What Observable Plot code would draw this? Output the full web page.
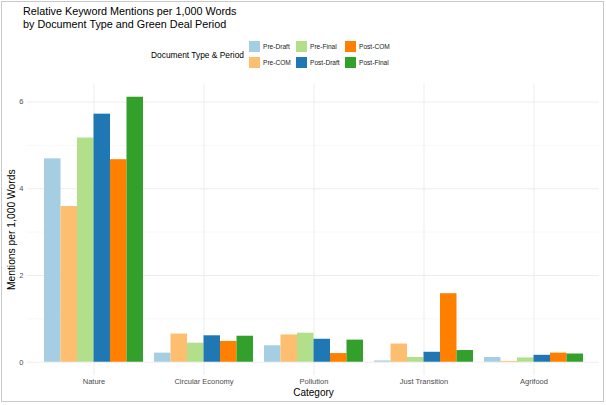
<!DOCTYPE html>
<html>
<head>
<meta charset="utf-8">
<script src="https://cdn.jsdelivr.net/npm/d3@7"></script>
<script src="https://cdn.jsdelivr.net/npm/@observablehq/plot@0.6"></script>
<style>
  html, body { margin: 0; padding: 0; background: #fff; }
  #wrap { position: relative; width: 606px; height: 405px; font-family: "Liberation Sans", Arial, Helvetica, sans-serif; overflow: hidden; }
  #frame { position: absolute; left: 1px; top: 1px; width: 603px; height: 401px; box-sizing: border-box; border: 1px solid #c9c9c9; pointer-events: none; }
  #title { position: absolute; left: 23px; top: 4.5px; font-size: 10.8px; line-height: 13px; color: #000; }
  #legTitle { position: absolute; left: 151px; top: 50px; font-size: 8.4px; color: #000; }
  .sw { position: absolute; width: 11px; height: 11px; }
  .lab { position: absolute; font-size: 6.6px; color: #222; }
  #chart { position: absolute; left: 0; top: 0; }
</style>
</head>
<body>
<div id="wrap">
  <div id="chart"></div>
  <div id="title">Relative Keyword Mentions per 1,000 Words<br>by Document Type and Green Deal Period</div>
  <div id="legTitle">Document Type &amp; Period</div>
  <div id="legend"></div>
  <div id="frame"></div>
</div>
<script>
const categories = ["Nature", "Circular Economy", "Pollution", "Just Transition", "Agrifood"];
const series = ["Pre-Draft", "Pre-COM", "Pre-Final", "Post-Draft", "Post-COM", "Post-Final"];
const colors = ["#A6CEE3", "#FDBF6F", "#B2DF8A", "#1F78B4", "#FF7F00", "#33A02C"];
const preDraft  = [4.69, 0.21, 0.38, 0.03, 0.11];
const preCOM    = [3.59, 0.65, 0.63, 0.42, 0.02];
const preFinal  = [5.17, 0.44, 0.67, 0.11, 0.10];
const postDraft = [5.72, 0.61, 0.53, 0.23, 0.16];
const postCOM   = [4.67, 0.48, 0.20, 1.58, 0.21];
const postFinal = [6.11, 0.60, 0.51, 0.27, 0.19];
const yTicks = [0, 2, 4, 6];
const yMinor = [1, 3, 5];

const values = [preDraft, preCOM, preFinal, postDraft, postCOM, postFinal];
const data = [];
series.forEach((s, i) => categories.forEach((c, j) => data.push({category: c, series: s, value: values[i][j]})));

const bandW = 99;
const n = series.length;
const barW = bandW / n;
const barMarks = series.map((s, i) => Plot.barY(data.filter(d => d.series === s), {
  x: "category", y1: 0, y2: "value", fill: "series",
  insetLeft: i * barW, insetRight: (n - 1 - i) * barW
}));

const chart = Plot.plot({
  width: 606,
  height: 405,
  marginTop: 83.5,
  marginBottom: 30,
  marginLeft: 27,
  marginRight: 7,
  style: {fontFamily: "'Liberation Sans', Arial, Helvetica, sans-serif", background: "transparent"},
  x: {domain: categories, paddingInner: 0.1, paddingOuter: 0.15, label: null},
  y: {domain: [-0.3055, 6.4155], label: null},
  color: {domain: series, range: colors},
  marks: [
    Plot.ruleY(yMinor, {stroke: "#f3f3f3", strokeWidth: 0.6}),
    Plot.ruleY(yTicks, {stroke: "#ebebeb", strokeWidth: 0.9}),
    Plot.gridX({stroke: "#ebebeb", strokeOpacity: 1, strokeWidth: 0.9}),
    ...barMarks,
    Plot.axisX({tickSize: 0, tickPadding: 3, fontSize: 7.5, fill: "#4d4d4d", label: null}),
    Plot.axisY({ticks: yTicks, tickFormat: d => String(d), tickSize: 0, tickPadding: 4, fontSize: 7.5, fill: "#4d4d4d", label: null}),
    Plot.text(["Category"], {frameAnchor: "bottom", lineAnchor: "middle", dy: 17.7, fontSize: 10, fill: "#000"}),
    Plot.text(["Mentions per 1,000 Words"], {frameAnchor: "left", textAnchor: "middle", lineAnchor: "middle", dx: -16, rotate: -90, fontSize: 10.3, fill: "#000"})
  ]
});
document.getElementById("chart").appendChild(chart);

// legend (column-major, 2 rows x 3 columns), colours from the plot's color scale
const cs = chart.scale("color");
const leg = document.getElementById("legend");
const colX = [249, 296, 345];
const rowY = [41, 57];
cs.domain.forEach((s, i) => {
  const col = Math.floor(i / 2), row = i % 2;
  const sw = document.createElement("div");
  sw.className = "sw";
  sw.style.left = colX[col] + "px";
  sw.style.top = rowY[row] + "px";
  sw.style.background = cs.range[i];
  leg.appendChild(sw);
  const lb = document.createElement("div");
  lb.className = "lab";
  lb.style.left = (colX[col] + 14) + "px";
  lb.style.top = (rowY[row] + 1.5) + "px";
  lb.textContent = s;
  leg.appendChild(lb);
});
</script>
</body>
</html>
